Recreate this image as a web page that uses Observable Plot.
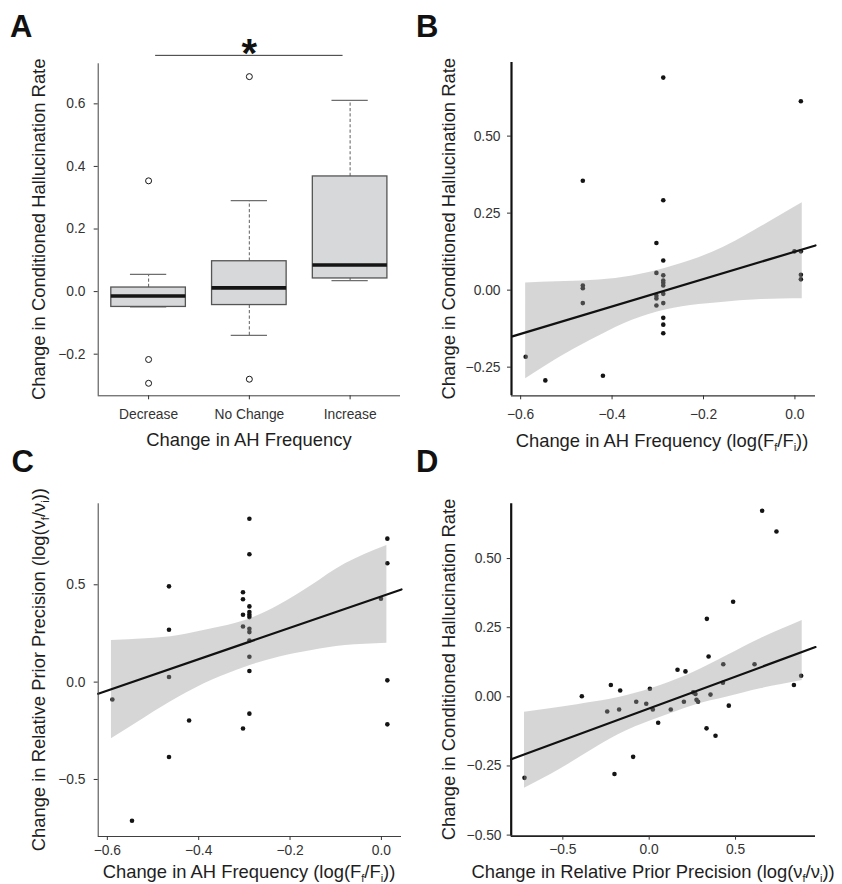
<!DOCTYPE html>
<html><head><meta charset="utf-8">
<script src="https://cdn.jsdelivr.net/npm/d3@7"></script>
<script src="https://cdn.jsdelivr.net/npm/@observablehq/plot@0.6"></script>
<style>
body{margin:0;background:#fff;}
#fig{position:relative;width:842px;height:884px;background:#fff;overflow:hidden;font-family:"Liberation Sans",Arial,Helvetica,sans-serif;}
#fig svg{position:absolute;max-width:none;}
</style></head><body><div id="fig"></div>
<script>
// ---------- Panel A: box plot summary values ----------
const categories = ["Decrease", "No Change", "Increase"];
const q1A = [-0.049, -0.043, 0.042];
const medianA = [-0.014, 0.012, 0.085];
const q3A = [0.013, 0.097, 0.368];
const whiskerLoA = [-0.049, -0.140, 0.035];
const whiskerHiA = [0.055, 0.291, 0.611];
const outlierCatA = ["Decrease", "Decrease", "Decrease", "No Change", "No Change"];
const outlierValA = [0.354, -0.217, -0.293, 0.687, -0.280];
const yTicksA = [-0.2, 0, 0.2, 0.4, 0.6];
const sigBracketX = [1.07, 2.93];
const sigBracketY = 0.755;
const sigStar = {x: 2, y: 0.758, text: "*"};

// ---------- Panel B ----------
const xB = [-0.589, -0.546, -0.464, -0.464, -0.464, -0.464, -0.420,
  -0.303, -0.303, -0.303, -0.303, -0.303,
  -0.288, -0.288, -0.288, -0.288, -0.288, -0.288, -0.288, -0.288, -0.288, -0.288, -0.288, -0.288,
  -0.001, 0.013, 0.013, 0.013, 0.013];
const yB = [-0.216, -0.293, 0.355, 0.015, 0.006, -0.042, -0.278,
  0.153, 0.056, -0.018, -0.027, -0.050,
  0.690, 0.292, 0.096, 0.048, 0.031, 0.024, 0.015, -0.012, -0.042, -0.090, -0.112, -0.140,
  0.126, 0.613, 0.126, 0.050, 0.035];
const bandBx = [-0.589, -0.520, -0.447, -0.374, -0.301, -0.228, -0.155, -0.082, 0.016];
const bandBlo = [-0.288, -0.223, -0.163, -0.109, -0.071, -0.050, -0.039, -0.031, -0.028];
const bandBhi = [0.023, 0.027, 0.031, 0.042, 0.064, 0.096, 0.140, 0.199, 0.284];
const fitBx = [-0.618, 0.045];
const fitBy = [-0.150, 0.145];
const xTicksB = [-0.6, -0.4, -0.2, 0];
const yTicksB = [-0.25, 0, 0.25, 0.5];

// ---------- Panel C ----------
const xC = [-0.289, -0.289, 0.013, 0.013, -0.001, -0.465, -0.465, -0.465, -0.465, -0.589, -0.546, -0.421,
  -0.303, -0.303, -0.303, -0.303, -0.303,
  -0.289, -0.289, -0.289, -0.289, -0.289, -0.289, -0.289, -0.289, -0.289, -0.289,
  0.013, 0.013];
const yC = [0.839, 0.657, 0.737, 0.611, 0.428, 0.492, 0.269, 0.026, -0.385, -0.089, -0.712, -0.197,
  0.462, 0.426, 0.346, 0.286, -0.238,
  0.389, 0.360, 0.346, 0.334, 0.274, 0.257, 0.214, 0.130, 0.057, -0.162,
  0.009, -0.217];
const bandCx = [-0.591, -0.516, -0.443, -0.371, -0.298, -0.225, -0.152, -0.079, 0.012];
const bandClo = [-0.291, -0.180, -0.077, 0.009, 0.077, 0.128, 0.163, 0.188, 0.200];
const bandChi = [0.214, 0.223, 0.240, 0.274, 0.317, 0.394, 0.497, 0.608, 0.702];
const fitCx = [-0.620, 0.044];
const fitCy = [-0.060, 0.476];
const xTicksC = [-0.6, -0.4, -0.2, 0];
const yTicksC = [-0.5, 0, 0.5];

// ---------- Panel D ----------
const xD = [0.654, 0.737, 0.486, 0.334, 0.344, 0.429, 0.610, 0.880, 0.838, 0.164, 0.210, -0.222, -0.168,
  -0.390, 0.004, -0.243, -0.174, -0.075, -0.017, 0.021, 0.125, 0.201, 0.255, 0.268, 0.274, 0.283,
  0.355, 0.427, 0.461, 0.052, 0.332, 0.384, -0.093, -0.201, -0.722];
const yD = [0.673, 0.598, 0.344, 0.282, 0.146, 0.118, 0.118, 0.076, 0.043, 0.098, 0.092, 0.043, 0.023,
  0.002, 0.029, -0.053, -0.046, -0.018, -0.025, -0.046, -0.046, -0.018, 0.016, 0.010, -0.011, -0.018,
  0.008, 0.051, -0.032, -0.094, -0.114, -0.141, -0.217, -0.279, -0.293];
const bandDx = [-0.722, -0.514, -0.321, -0.128, 0.066, 0.258, 0.452, 0.644, 0.886];
const bandDlo = [-0.331, -0.261, -0.188, -0.122, -0.074, -0.031, -0.001, 0.029, 0.059];
const bandDhi = [-0.056, -0.038, -0.019, 0.005, 0.041, 0.089, 0.149, 0.210, 0.276];
const fitDx = [-0.799, 0.963];
const fitDy = [-0.226, 0.180];
const xTicksD = [-0.5, 0, 0.5];
const yTicksD = [-0.5, -0.25, 0, 0.25, 0.5];

// ---------- helpers ----------
const fig = document.getElementById("fig");
const FONT = "'Liberation Sans', Arial, Helvetica, sans-serif";
const baseStyle = {fontFamily: FONT, fontSize: "13.8px", color: "#333", background: "none", overflow: "visible"};
function place(svg, left, top) {
  svg.style.position = "absolute";
  svg.style.left = left + "px";
  svg.style.top = top + "px";
  fig.appendChild(svg);
}
const zipPts = (xs, ys) => xs.map((x, i) => ({x, y: ys[i]}));
const zipBand = (xs, lo, hi) => xs.map((x, i) => ({x, lo: lo[i], hi: hi[i]}));

// ---------- Panel A ----------
const boxA = categories.map((c, i) => ({cat: c, pos: i + 1, q1: q1A[i], med: medianA[i], q3: q3A[i], lo: whiskerLoA[i], hi: whiskerHiA[i]}));
const outA = outlierCatA.map((c, i) => ({pos: categories.indexOf(c) + 1, v: outlierValA[i]}));
const halfBox = 0.37, halfCap = 0.18;
const xDomA = [0.5, 3.5], yDomA = [-0.333, 0.728];
const plotA = Plot.plot({
  width: 420, height: 440, marginLeft: 97.7, marginRight: 20, marginTop: 63.3, marginBottom: 44.7,
  style: baseStyle,
  x: {domain: xDomA}, y: {domain: yDomA},
  marks: [
    Plot.ruleX(boxA, {x: "pos", y1: "q3", y2: "hi", stroke: "#6e6e6e", strokeWidth: 1.1, strokeDasharray: "3.2,2.2"}),
    Plot.ruleX(boxA, {x: "pos", y1: "lo", y2: "q1", stroke: "#6e6e6e", strokeWidth: 1.1, strokeDasharray: "3.2,2.2"}),
    Plot.ruleY(boxA, {y: "hi", x1: d => d.pos - halfCap, x2: d => d.pos + halfCap, stroke: "#6e6e6e", strokeWidth: 1.3}),
    Plot.ruleY(boxA, {y: "lo", x1: d => d.pos - halfCap, x2: d => d.pos + halfCap, stroke: "#6e6e6e", strokeWidth: 1.3}),
    Plot.rect(boxA, {x1: d => d.pos - halfBox, x2: d => d.pos + halfBox, y1: "q1", y2: "q3", fill: "#d7d8da", stroke: "#555", strokeWidth: 1.3}),
    Plot.ruleY(boxA, {y: "med", x1: d => d.pos - halfBox, x2: d => d.pos + halfBox, stroke: "#151515", strokeWidth: 3.6}),
    Plot.dot(outA, {x: "pos", y: "v", r: 3, stroke: "#151515", fill: "white", strokeWidth: 1}),
    Plot.ruleX([xDomA[0]], {stroke: "#404040", strokeWidth: 1}),
    Plot.ruleY([yDomA[0]], {stroke: "#404040", strokeWidth: 1}),
    Plot.axisY({ticks: yTicksA, tickFormat: d3.format(".1f"), tickSize: 4, tickPadding: 8.7, label: null}),
    Plot.axisX({ticks: [1, 2, 3], tickFormat: i => categories[i - 1], tickSize: 4, tickPadding: 9.1, label: null}),
    Plot.ruleY([sigBracketY], {x1: sigBracketX[0], x2: sigBracketX[1], stroke: "#333", strokeWidth: 1}),
    Plot.text([sigStar], {x: "x", y: "y", text: "text", fontSize: 40, fontWeight: "bold", fill: "#111"})
  ]
});
place(plotA, 0, 0);

// ---------- scatter panel builder ----------
function scatter({pts, band, fit, xDom, yDom, xTicks, yTicks, xFmt, yFmt, left, top, width, height, margins, yAxisLine, xAxisLine, xPad, yPad}) {
  const p = Plot.plot({
    width, height, ...margins,
    style: baseStyle,
    x: {domain: xDom}, y: {domain: yDom},
    marks: [
      Plot.dot(pts, {x: "x", y: "y", r: 2.3, fill: "#141414"}),
      Plot.areaY(band, {x: "x", y1: "lo", y2: "hi", fill: "#999", fillOpacity: 0.4, curve: "natural"}),
      Plot.line(fit, {x: "x", y: "y", stroke: "#111", strokeWidth: 2.2}),
      Plot.ruleX([xDom[0]], yAxisLine),
      Plot.ruleY([yDom[0]], xAxisLine),
      Plot.axisY({ticks: yTicks, tickFormat: d3.format(yFmt), tickSize: 4, tickPadding: yPad, label: null}),
      Plot.axisX({ticks: xTicks, tickFormat: d3.format(xFmt), tickSize: 4, tickPadding: xPad, label: null})
    ]
  });
  place(p, left, top);
}

scatter({
  pts: zipPts(xB, yB), band: zipBand(bandBx, bandBlo, bandBhi), fit: zipPts(fitBx, fitBy),
  xDom: [-0.620, 0.045], yDom: [-0.343, 0.739], xTicks: xTicksB, yTicks: yTicksB, xFmt: ".1f", yFmt: ".2f",
  left: 420, top: 0, width: 422, height: 440,
  margins: {marginLeft: 91, marginRight: 27, marginTop: 62, marginBottom: 44.7},
  yAxisLine: {stroke: "#111", strokeWidth: 2.2}, xAxisLine: {stroke: "#333", strokeWidth: 1.2},
  xPad: 9.1, yPad: 7
});
scatter({
  pts: zipPts(xC, yC), band: zipBand(bandCx, bandClo, bandChi), fit: zipPts(fitCx, fitCy),
  xDom: [-0.620, 0.044], yDom: [-0.793, 0.916], xTicks: xTicksC, yTicks: yTicksC, xFmt: ".1f", yFmt: ".1f",
  left: 0, top: 440, width: 420, height: 444,
  margins: {marginLeft: 97.7, marginRight: 19, marginTop: 63.3, marginBottom: 48},
  yAxisLine: {stroke: "#404040", strokeWidth: 1}, xAxisLine: {stroke: "#404040", strokeWidth: 1},
  xPad: 4.4, yPad: 8.7
});
scatter({
  pts: zipPts(xD, yD), band: zipBand(bandDx, bandDlo, bandDhi), fit: zipPts(fitDx, fitDy),
  xDom: [-0.799, 0.963], yDom: [-0.504, 0.698], xTicks: xTicksD, yTicks: yTicksD, xFmt: ".1f", yFmt: ".2f",
  left: 420, top: 440, width: 422, height: 444,
  margins: {marginLeft: 90.7, marginRight: 27, marginTop: 63.3, marginBottom: 48.3},
  yAxisLine: {stroke: "#111", strokeWidth: 2.2}, xAxisLine: {stroke: "#222", strokeWidth: 1.8},
  xPad: 4.4, yPad: 5.7
});

// ---------- titles and panel letters ----------
const ov = d3.select(fig).append("svg")
  .attr("width", 842).attr("height", 884)
  .style("left", "0px").style("top", "0px").style("pointer-events", "none")
  .style("font-family", FONT);

function title(parts, x, y, rotate) {
  const t = ov.append("text")
    .attr("text-anchor", "middle").attr("font-size", 18.4).attr("fill", "#1e1e1e")
    .attr("transform", rotate ? `translate(${x},${y}) rotate(-90)` : `translate(${x},${y})`);
  let shifted = false;
  parts.forEach(p => {
    if (typeof p === "string") {
      const s = t.append("tspan").text(p);
      if (shifted) { s.attr("dy", -4); shifted = false; }
    } else {
      t.append("tspan").attr("dy", 4).attr("font-size", 11).text(p.sub);
      shifted = true;
    }
  });
}
const yTitleRate = ["Change in Conditioned Hallucination Rate"];
const xTitleFreq = ["Change in AH Frequency"];
const xTitleLogF = ["Change in AH Frequency (log(F", {sub: "f"}, "/F", {sub: "i"}, "))"];
const titlePrec = ["Change in Relative Prior Precision (log(\u03bd", {sub: "f"}, "/\u03bd", {sub: "i"}, "))"];

title(yTitleRate, 44.5, 229.3, true);
title(xTitleFreq, 248.9, 446, false);
title(yTitleRate, 454.5, 228.7, true);
title(xTitleLogF, 662, 446.5, false);
title(titlePrec, 44.5, 669.7, true);
title(xTitleLogF, 249, 877.6, false);
title(yTitleRate, 454.5, 669.5, true);
title(titlePrec, 653, 877.8, false);

const letters = [["A", 10, 36.7], ["B", 416, 36.7], ["C", 11.5, 471.7], ["D", 416, 471.7]];
letters.forEach(([l, x, y]) => ov.append("text").attr("x", x).attr("y", y)
  .attr("font-size", 31).attr("font-weight", "bold").attr("fill", "#111").text(l));
</script></body></html>
